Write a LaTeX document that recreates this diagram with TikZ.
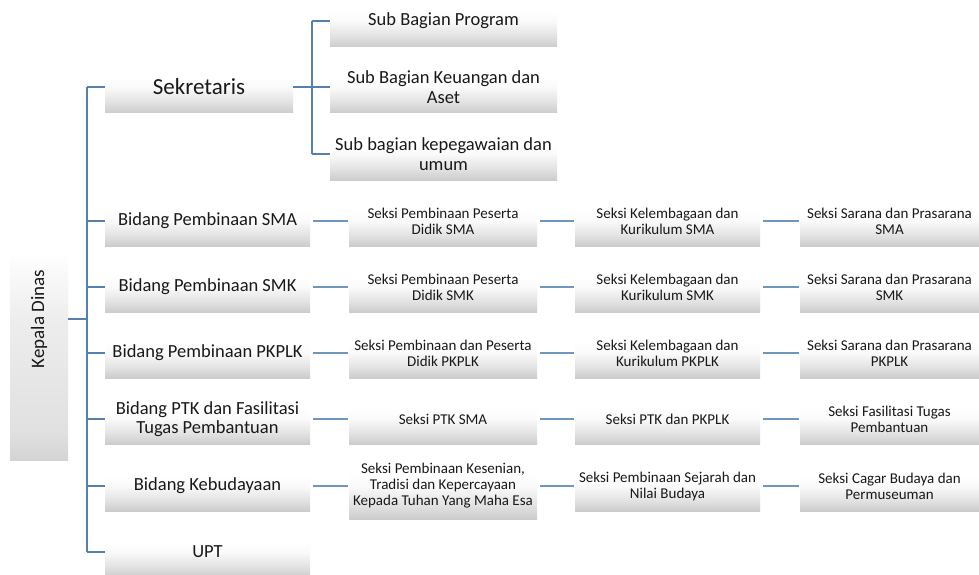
\documentclass[tikz,border=0pt]{standalone}
\usepackage{fontspec}
\setmainfont{Carlito}
\definecolor{lnk}{RGB}{84,128,176}
\definecolor{lnk2}{RGB}{110,150,190}
\pgfdeclareverticalshading{boxshade}{100bp}{color(0bp)=(black!20); color(25bp)=(black!20); color(36bp)=(black!11); color(50bp)=(black!2); color(60bp)=(white); color(100bp)=(white)}
\pgfdeclareverticalshading{tallshade}{100bp}{color(0bp)=(black!17); color(25bp)=(black!17); color(30bp)=(black!12); color(50bp)=(black!7); color(62bp)=(white); color(100bp)=(white)}
\tikzset{
  bx/.style={shading=boxshade, inner sep=0pt, align=center, text=black!90},
  big/.style={bx, font=\fontsize{18.5}{19.5}\selectfont},
  small/.style={bx, font=\fontsize{15}{16}\selectfont},
  bid/.style={big, minimum width=205pt, minimum height=50pt},
  sub/.style={big, minimum width=227pt, minimum height=52pt},
  sa/.style={small, minimum width=188pt, minimum height=50pt},
  sbb/.style={small, minimum width=185pt, minimum height=50pt},
  sc/.style={small, minimum width=179pt, minimum height=50pt},
  lk/.style={draw=lnk, line width=1.2pt},
  rowlk/.style={draw=lnk2, line width=1.2pt, shorten <=3pt, shorten >=1pt},
}
\begin{document}
\begin{tikzpicture}[x=1pt,y=-1pt]
\useasboundingbox (0,0) rectangle (979,575);
\fill[white] (0,0) rectangle (979,575);

% Kepala Dinas
\node[bx, shading=tallshade, font=\fontsize{19}{20}\selectfont, minimum width=58pt, minimum height=282pt] (kd) at (39,319) {\rotatebox{90}{Kepala Dinas}};

% Sekretaris and sub sections
\node[bx, font=\fontsize{23}{24}\selectfont, minimum width=188pt, minimum height=52pt] (sek) at (199,87) {Sekretaris};
\node[sub] (sb1) at (443.5,21) {Sub Bagian Program};
\node[sub] (sb2) at (443.5,87) {Sub Bagian Keuangan dan\\Aset};
\node[sub] (sb3) at (443.5,154) {Sub bagian kepegawaian dan\\umum};

% Bidang
\node[bid] (b1) at (207.5,221) {Bidang Pembinaan SMA};
\node[bid] (b2) at (207.5,287) {Bidang Pembinaan SMK};
\node[bid] (b3) at (207.5,353) {Bidang Pembinaan PKPLK};
\node[bid] (b4) at (207.5,419) {Bidang PTK dan Fasilitasi\\Tugas Pembantuan};
\node[bid] (b5) at (207.5,486) {Bidang Kebudayaan};
\node[bid] (b6) at (207.5,552) {UPT};

% Seksi column 1
\node[sa] (s11) at (443,221) {Seksi Pembinaan Peserta\\Didik SMA};
\node[sa] (s21) at (443,287) {Seksi Pembinaan Peserta\\Didik SMK};
\node[sa] (s31) at (443,353) {Seksi Pembinaan dan Peserta\\Didik PKPLK};
\node[sa] (s41) at (443,419) {Seksi PTK SMA};
\node[sa, minimum height=66pt] (s51) at (443,486) {Seksi Pembinaan Kesenian,\\Tradisi dan Kepercayaan\\Kepada Tuhan Yang Maha Esa};

% Seksi column 2
\node[sbb] (s12) at (667.5,221) {Seksi Kelembagaan dan\\Kurikulum SMA};
\node[sbb] (s22) at (667.5,287) {Seksi Kelembagaan dan\\Kurikulum SMK};
\node[sbb] (s32) at (667.5,353) {Seksi Kelembagaan dan\\Kurikulum PKPLK};
\node[sbb] (s42) at (667.5,419) {Seksi PTK dan PKPLK};
\node[sbb] (s52) at (667.5,486) {Seksi Pembinaan Sejarah dan\\Nilai Budaya};

% Seksi column 3
\node[sc] (s13) at (889.5,221) {Seksi Sarana dan Prasarana\\SMA};
\node[sc] (s23) at (889.5,287) {Seksi Sarana dan Prasarana\\SMK};
\node[sc] (s33) at (889.5,353) {Seksi Sarana dan Prasarana\\PKPLK};
\node[sc] (s43) at (889.5,419) {Seksi Fasilitasi Tugas\\Pembantuan};
\node[sc] (s53) at (889.5,486) {Seksi Cagar Budaya dan\\Permuseuman};

% trunk
\coordinate (tt) at (87,87);
\coordinate (tm) at (87,319);
\coordinate (tb) at (87,552);
\draw[lk] (tt) -- (tb);
\draw[lk] (kd.east) -- (tm);
\draw[lk] (tt) -- (sek.west);
\foreach \b in {b1,b2,b3,b4,b5,b6} {
  \draw[lk] (\b.west -| tt) -- (\b.west);
}

% Sekretaris branch
\coordinate (st) at (312,21);
\coordinate (sbt) at (312,154);
\draw[lk] (sek.east) -- (sek.east -| st);
\draw[lk] (st) -- (sbt);
\foreach \s in {sb1,sb2,sb3} {
  \draw[lk] (\s.west -| st) -- (\s.west);
}

% rows
\foreach \r in {1,2,3,4,5} {
  \draw[rowlk] (b\r.east) -- (s\r1.west);
  \draw[rowlk] (s\r1.east) -- (s\r2.west);
  \draw[rowlk] (s\r2.east) -- (s\r3.west);
}
\end{tikzpicture}
\end{document}
